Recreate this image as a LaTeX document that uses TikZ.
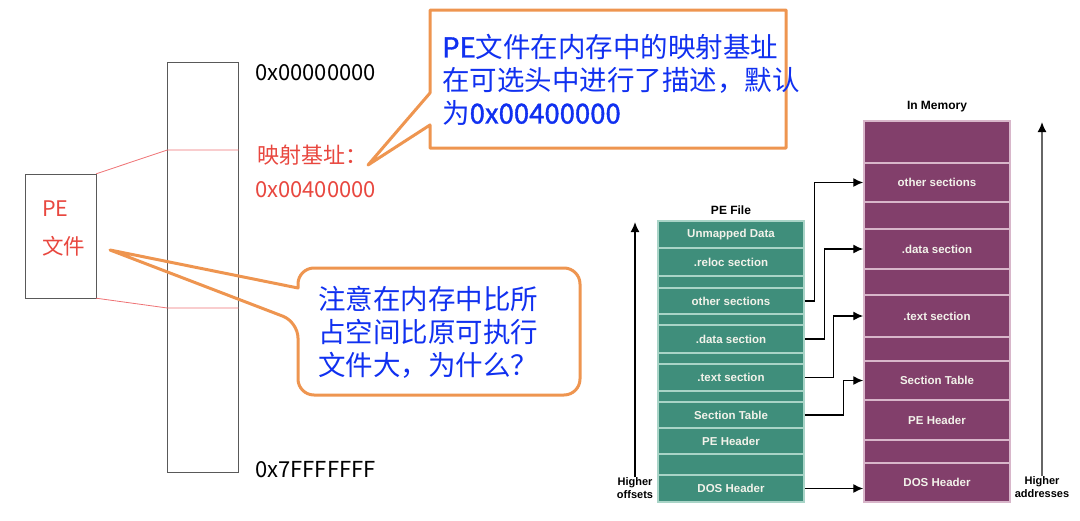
\documentclass[tikz,border=0pt]{standalone}
\usepackage{fontspec}
\setmainfont{Noto Sans CJK SC}
\newfontfamily\notebold{Noto Sans CJK SC}[FakeBold=1.3]
\newfontfamily\secfont{Liberation Sans}
\usetikzlibrary{arrows.meta}
\definecolor{FileGreen}{HTML}{3F8E7B}
\definecolor{FileSep}{HTML}{A9D4C7}
\definecolor{MemPurple}{HTML}{823F6B}
\definecolor{MemSep}{HTML}{D8B6CA}
\definecolor{Label}{HTML}{F2F2EA}
\definecolor{Callout}{HTML}{EE9550}
\definecolor{TipRed}{HTML}{E8473F}
\definecolor{Link}{HTML}{EE7274}
\definecolor{Note}{HTML}{1030F0}

\begin{document}
\begin{tikzpicture}[x=1pt,y=-1pt,>=Latex,every node/.style={inner sep=0pt},
  frow/.style={draw=FileSep,line width=1.5pt,fill=FileGreen,minimum width=146pt,text=Label,font=\secfont\bfseries\fontsize{11.5}{12}\selectfont},
  mrow/.style={frow,draw=MemSep,fill=MemPurple},
  link/.style={-{Latex[length=10pt,width=9pt]},line width=1.4pt},
  axis/.style={-{Latex[length=10pt,width=9pt]},line width=1.6pt},
  axislbl/.style={align=center,font=\secfont\bfseries\fontsize{11}{13}\selectfont},
  addr/.style={anchor=west,font=\fontsize{22}{26}\selectfont},
  note/.style={anchor=north west,align=left,text=Note,font=\fontsize{27.5}{33}\selectfont},
  callout/.style={draw=Callout,line width=3pt,line join=round}]
  \useasboundingbox (0,0) rectangle (1080,520);

  % left: address space and the PE file
  \node[draw=gray!70!black,minimum width=71pt,minimum height=410pt] (vas) at (203,267) {};
  \node[draw=gray!70!black,minimum width=71pt,minimum height=124pt] (pebox) at (60.5,236) {};
  \node[anchor=west,align=left,text=TipRed,font=\fontsize{21.5}{38}\selectfont] (pename) at (42,228) {PE\\文件};
  \draw[Link,line width=0.8pt] (pebox.north east) -- (vas.west |- 0,150) -- (vas.east |- 0,150);
  \draw[Link,line width=0.8pt] (pebox.south east) -- (vas.west |- 0,308) -- (vas.east |- 0,308);
  \node[addr] (lowaddr) at (255,73) {0x00000000};
  \node[addr,text=TipRed] (basecn) at (257,155) {映射基址：};
  \node[addr,text=TipRed] (baseva) at (255,190) {0x00400000};
  \node[addr] (highaddr) at (255,470) {0x7FFFFFFF};

  % callouts
  \draw[callout] (430,10) -- (786,10) -- (786,148) -- (430,148) -- (430,125) -- (368,165) -- (430,93) -- cycle;
  \node[note] (basenote) at (442,34) {{\notebold PE}文件在内存中的映射基址\\在可选头中进行了描述，默认\\为{\notebold 0x00400000}};
  \draw[callout] (298,288) [rounded corners=16pt] -- (298,268) -- (580,268) -- (580,395) -- (298,395) -- (298,322) [sharp corners] -- (110,250) -- cycle;
  \node[note] (whynote) at (318,286) {注意在内存中比所\\占空间比原可执行\\文件大，为什么？};

  % right: PE file vs. in memory
  \node[font=\secfont\bfseries\fontsize{12}{14}\selectfont] (ftitle) at (731,210) {PE File};
  \node[font=\secfont\bfseries\fontsize{12}{14}\selectfont] (mtitle) at (937,107) {In Memory};
  \foreach \n/\a/\b/\t in {pun/221/248/Unmapped Data,prel/248/276/.reloc section,pb1/276/288/{},poth/288/314/other sections,
      pb2/314/325/{},pdat/325/353/.data section,pb3/353/364/{},ptxt/364/391/.text section,pb4/391/402/{},
      psec/402/428/Section Table,phdr/428/454/PE Header,pb5/454/475/{},pdos/475/502/DOS Header}
    \node[frow,minimum height={(\b-\a)*1pt}] (\n) at (731,{(\a+\b)/2}) {\t};
  \foreach \n/\a/\b/\t in {mb1/121/163/{},moth/163/202/other sections,mb2/202/229/{},mdat/229/269/.data section,
      mb3/269/295/{},mtxt/295/337/.text section,mb4/337/361/{},msec/361/400/Section Table,
      mhdr/400/440/PE Header,mb5/440/463/{},mdos/463/502/DOS Header}
    \node[mrow,minimum height={(\b-\a)*1pt}] (\n) at (937,{(\a+\b)/2}) {\t};
  \draw[link] (poth.east) -- ++(10,0) |- (moth.west);
  \draw[link] (pdat.east) -- ++(20,0) |- (mdat.west);
  \draw[link] (ptxt.east) -- ++(29,0) |- (mtxt.west);
  \draw[link] (psec.east) -- ++(39,0) |- (msec.west);
  \draw[link] (pdos.east) -- (pdos.east -| mdos.west);

  \node[axislbl] (offs) at (635,488) {Higher\\offsets};
  \node[axislbl] (addrs) at (1042,487) {Higher\\addresses};
  \coordinate (offtop) at (635,222);
  \coordinate (addrtop) at (1042,122);
  \draw[axis] (offs.north) -- (offtop);
  \draw[axis,draw=gray!80!black,-{Latex[length=10pt,width=9pt,black]}] (addrs.north) -- (addrtop);
\end{tikzpicture}
\end{document}
